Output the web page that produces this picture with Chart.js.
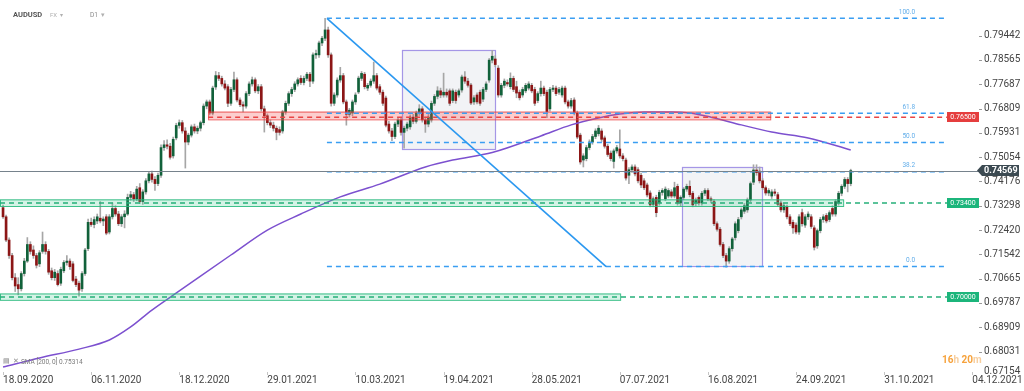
<!DOCTYPE html>
<html><head><meta charset="utf-8">
<script src="https://cdn.jsdelivr.net/npm/chart.js@4.4.1/dist/chart.umd.min.js"></script>
<style>html,body{margin:0;padding:0;background:#fff;}#wrap{width:1024px;height:391px;position:relative;}</style>
</head><body><div id="wrap"><canvas id="c" width="1024" height="391"></canvas></div>
<script>
// ---- data (prices in pips, /10000) ----
const opens = [7323,7290,7206,7150,7070,7045,7030,7085,7130,7190,7170,7150,7120,7165,7190,7165,7095,7070,7085,7050,
7095,7125,7130,7120,7065,7050,7030,7085,7175,7270,7262,7275,7285,7275,7290,7235,7290,7320,7300,7265,
7290,7300,7360,7370,7355,7395,7345,7380,7420,7445,7425,7410,7440,7540,7550,7545,7510,7575,7620,7630,
7600,7560,7585,7615,7600,7610,7630,7690,7705,7665,7759,7800,7790,7770,7760,7700,7750,7785,7712,7695,
7690,7735,7770,7785,7745,7760,7680,7655,7630,7621,7610,7605,7600,7669,7700,7735,7750,7770,7790,7775,
7790,7805,7780,7875,7875,7918,7935,7965,7875,7700,7730,7784,7800,7705,7660,7665,7705,7741,7790,7805,
7755,7765,7780,7800,7760,7740,7719,7625,7600,7580,7625,7640,7595,7610,7615,7650,7635,7665,7680,7640,
7625,7640,7700,7725,7745,7730,7740,7745,7710,7740,7730,7748,7795,7780,7766,7705,7730,7740,7715,7750,
7784,7856,7860,7827,7730,7765,7775,7760,7790,7760,7740,7730,7745,7755,7765,7750,7710,7735,7755,7740,
7680,7750,7755,7740,7730,7755,7705,7690,7712,7665,7585,7495,7500,7540,7560,7580,7590,7600,7575,7545,
7520,7490,7528,7535,7510,7495,7440,7460,7470,7460,7440,7420,7405,7376,7335,7360,7340,7378,7355,7365,
7380,7365,7400,7340,7360,7390,7400,7375,7340,7360,7340,7375,7385,7355,7345,7265,7245,7190,7150,7130,
7175,7215,7240,7290,7310,7315,7351,7415,7459,7455,7420,7395,7376,7365,7380,7370,7340,7315,7325,7290,
7270,7260,7235,7305,7260,7290,7290,7250,7185,7240,7280,7295,7280,7320,7300,7340,7375,7400,7425,7410];
const highs = [7332,7296,7214,7158,7085,7070,7092,7140,7215,7200,7185,7158,7168,7235,7200,7172,7105,7100,7095,7108,
7132,7150,7138,7128,7075,7058,7092,7176,7282,7285,7290,7300,7345,7290,7298,7298,7340,7330,7310,7298,
7312,7372,7382,7378,7400,7410,7388,7428,7452,7455,7435,7448,7550,7565,7568,7555,7578,7628,7640,7638,
7612,7592,7622,7625,7618,7636,7698,7712,7712,7762,7815,7812,7798,7782,7768,7758,7813,7792,7720,7705,
7742,7778,7795,7792,7768,7768,7690,7662,7640,7632,7618,7615,7675,7708,7742,7758,7778,7792,7800,7798,
7812,7812,7882,7892,7925,7942,8007,7975,7882,7738,7792,7830,7808,7712,7682,7712,7738,7798,7815,7812,
7772,7788,7849,7808,7768,7748,7726,7635,7610,7632,7648,7648,7618,7632,7658,7660,7672,7695,7688,7650,
7660,7708,7732,7760,7755,7809,7752,7752,7752,7748,7752,7802,7815,7790,7772,7728,7738,7748,7758,7778,
7862,7891,7872,7836,7772,7788,7785,7810,7798,7780,7748,7758,7772,7778,7772,7758,7742,7780,7762,7748,
7758,7765,7762,7758,7762,7762,7712,7718,7720,7672,7592,7518,7548,7568,7588,7608,7620,7608,7582,7552,
7528,7535,7548,7604,7518,7502,7468,7478,7478,7468,7448,7428,7412,7384,7362,7368,7386,7392,7398,7392,
7388,7415,7408,7366,7396,7408,7420,7382,7358,7366,7382,7392,7392,7362,7352,7272,7252,7198,7158,7182,
7216,7272,7288,7322,7338,7358,7416,7478,7478,7470,7428,7402,7392,7388,7390,7378,7348,7338,7332,7298,
7278,7268,7298,7318,7298,7308,7298,7258,7246,7288,7298,7302,7312,7330,7352,7382,7406,7432,7432,7462];
const lows = [7284,7200,7140,7062,7020,7008,7022,7076,7125,7155,7140,7105,7110,7158,7155,7082,7062,7060,7040,7042,
7088,7115,7100,7055,7038,7003,7020,7078,7168,7255,7250,7265,7268,7258,7225,7228,7282,7292,7258,7255,
7250,7295,7350,7345,7348,7338,7335,7372,7412,7415,7385,7402,7432,7530,7535,7498,7502,7568,7610,7592,
7466,7550,7578,7592,7590,7600,7622,7680,7658,7658,7750,7782,7762,7748,7688,7692,7742,7705,7688,7669,
7682,7728,7762,7738,7735,7672,7596,7622,7612,7600,7568,7585,7592,7660,7692,7725,7742,7762,7768,7766,
7782,7760,7772,7862,7866,7908,7926,7866,7690,7692,7722,7776,7698,7621,7650,7655,7696,7735,7782,7752,
7746,7758,7772,7748,7732,7692,7615,7592,7565,7572,7616,7585,7538,7600,7606,7626,7628,7656,7632,7595,
7615,7632,7692,7716,7720,7722,7722,7692,7702,7700,7722,7740,7772,7758,7695,7696,7698,7692,7706,7742,
7776,7846,7832,7722,7722,7756,7762,7752,7742,7720,7712,7722,7738,7748,7738,7692,7702,7726,7728,7648,
7672,7742,7728,7732,7722,7698,7682,7682,7658,7572,7480,7470,7492,7532,7552,7572,7582,7562,7538,7508,
7492,7466,7520,7502,7492,7422,7410,7450,7438,7412,7395,7388,7362,7326,7326,7290,7332,7368,7348,7358,
7358,7358,7332,7330,7352,7382,7362,7326,7330,7332,7332,7366,7348,7340,7258,7238,7184,7142,7108,7122,
7166,7206,7232,7282,7302,7306,7344,7406,7440,7412,7388,7368,7366,7356,7366,7328,7308,7306,7282,7258,
7230,7228,7226,7256,7252,7280,7248,7170,7176,7232,7270,7268,7272,7292,7292,7332,7366,7392,7380,7402];
const closes = [7290,7206,7150,7070,7040,7030,7085,7130,7190,7165,7150,7115,7160,7190,7165,7090,7070,7090,7045,7100,
7125,7130,7110,7060,7045,7025,7085,7170,7270,7262,7280,7290,7275,7282,7231,7290,7320,7300,7265,7290,
7300,7360,7370,7355,7390,7345,7380,7420,7445,7425,7410,7440,7540,7550,7545,7505,7570,7620,7630,7600,
7560,7585,7615,7600,7610,7630,7690,7705,7665,7755,7800,7790,7770,7755,7700,7750,7785,7712,7695,7690,
7735,7770,7785,7745,7760,7680,7655,7630,7621,7610,7595,7595,7669,7700,7735,7750,7770,7785,7775,7790,
7805,7780,7875,7880,7918,7935,7965,7875,7700,7730,7784,7800,7705,7660,7675,7705,7730,7791,7808,7760,
7765,7780,7800,7755,7740,7700,7621,7600,7580,7625,7640,7595,7610,7625,7650,7635,7665,7680,7640,7625,
7650,7700,7725,7745,7730,7740,7730,7700,7745,7710,7745,7795,7780,7765,7701,7720,7705,7700,7750,7770,
7856,7870,7840,7730,7765,7780,7770,7790,7750,7737,7720,7750,7765,7770,7745,7700,7735,7755,7735,7670,
7750,7755,7735,7750,7755,7705,7690,7710,7665,7578,7488,7510,7540,7560,7580,7600,7610,7570,7545,7515,
7500,7528,7540,7510,7500,7430,7460,7470,7445,7420,7405,7395,7369,7333,7355,7305,7378,7385,7390,7385,
7365,7395,7340,7360,7390,7400,7370,7333,7350,7340,7375,7385,7355,7350,7265,7245,7190,7150,7130,7175,
7210,7265,7280,7315,7330,7351,7410,7459,7450,7420,7395,7376,7385,7380,7375,7335,7315,7330,7290,7265,
7250,7235,7290,7265,7290,7300,7255,7180,7240,7280,7290,7275,7305,7300,7345,7375,7400,7425,7410,7457];

const smaIdx  = [0,12,25,35,42,49,56,65,75,87,98,111,124,139,148,161,177,187,196,203,211,220,226,233,243,253,265,279];
const smaVals = [0.6747,0.6780,0.6812,0.6845,0.6892,0.6953,0.7007,0.7076,0.7152,0.7242,0.7300,0.7362,0.7408,0.7470,
0.7495,0.7522,0.7582,0.7622,0.7647,0.7661,0.7669,0.7669,0.7665,0.7650,0.7622,0.7596,0.7575,0.75314];

const xTickIdx = [0,29,58,87,116,145,174,203,232,261,290,319];
const xTickLabels = ['18.09.2020','06.11.2020','18.12.2020','29.01.2021','10.03.2021','19.04.2021','28.05.2021','07.07.2021','16.08.2021','24.09.2021','31.10.2021','04.12.2021'];
const yTickValues = [0.79442,0.78565,0.77687,0.76809,0.75931,0.75054,0.74176,0.73298,0.72420,0.71542,0.70665,0.69787,0.68909,0.68031,0.67154];

// drawing levels (price, bar index)
const lastPrice = 0.74569;
const fibHigh = 0.8007, fibLow = 0.7110, fibStart = 106.6, fibEnd = 310, fibLabelAt = 300.2;
const fibLevels = [1.0, 0.618, 0.5, 0.382, 0.0];
const fibNames = ['100.0','61.8','50.0','38.2','0.0'];
const trendLine = {i1:106.6, v1:0.8007, i2:198.5, v2:0.7110};
const redZone = {i1:67.5, i2:252.5, lo:0.7642, hi:0.7670, level:0.76500, lineTo:310.7};
const greenZones = [{i1:-1, i2:276.5, lo:0.7329, hi:0.7353, level:0.73400, lineTo:310.7},
                    {i1:-1, i2:203.1, lo:0.6990, hi:0.7013, level:0.70000, lineTo:310.7}];
const boxes = [{i1:131.3, i2:161.9, lo:0.7535, hi:0.7893},{i1:223.5, i2:249.8, lo:0.7113, hi:0.7471}];

const P = v => v/10000;
const UP = '#11613a', DOWN = '#8c1616';
const wickData = opens.map((o,i)=>({x:i, y:[P(lows[i]), P(highs[i])]}));
const bodyData = opens.map((o,i)=>({x:i, y:[P(o), P(closes[i])]}));
const bodyColors = opens.map((o,i)=> closes[i] >= o ? UP : DOWN);
const smaData = smaIdx.map((x,k)=>({x, y:smaVals[k]}));

const F = 'Roboto, "Liberation Sans", sans-serif';
const Y_MIN = 0.67293, Y_MAX = 0.80732;

const deco = {
  id:'deco',
  beforeDatasetsDraw(chart){
    const ctx = chart.ctx, xs = chart.scales.x, ys = chart.scales.y;
    const X = i=>xs.getPixelForValue(i), Y = v=>ys.getPixelForValue(v);
    ctx.save();
    boxes.forEach(b=>{
      const x1=X(b.i1), x2=X(b.i2), y1=Y(b.hi), y2=Y(b.lo);
      ctx.fillStyle='rgba(220,224,232,0.38)';
      ctx.fillRect(x1,y1,x2-x1,y2-y1);
      ctx.strokeStyle='#a596e6'; ctx.lineWidth=1.2;
      ctx.strokeRect(Math.round(x1)+0.5,Math.round(y1)+0.5,Math.round(x2-x1),Math.round(y2-y1));
    });
    ctx.restore();
  },
  afterDatasetsDraw(chart){
    const ctx = chart.ctx, xs = chart.scales.x, ys = chart.scales.y;
    const X = i=>xs.getPixelForValue(i), Y = v=>ys.getPixelForValue(v);
    ctx.save();
    {
      const z=redZone, x1=Math.max(0,X(z.i1)), x2=X(z.i2), y1=Y(z.hi), y2=Y(z.lo);
      ctx.fillStyle='rgba(244,80,80,0.28)'; ctx.fillRect(x1,y1,x2-x1,y2-y1);
      ctx.strokeStyle='rgba(235,70,70,0.85)'; ctx.lineWidth=1; ctx.strokeRect(x1+0.5,y1+0.5,x2-x1,y2-y1);
      ctx.setLineDash([5,4]); ctx.strokeStyle='#e84545'; ctx.lineWidth=1.5;
      ctx.beginPath(); ctx.moveTo(x1,Y(z.level)); ctx.lineTo(X(z.lineTo),Y(z.level)); ctx.stroke(); ctx.setLineDash([]);
    }
    greenZones.forEach(z=>{
      const x1=Math.max(0,X(z.i1)), x2=X(z.i2), y1=Y(z.hi), y2=Y(z.lo);
      ctx.fillStyle='rgba(60,200,140,0.22)'; ctx.fillRect(x1,y1,x2-x1,y2-y1);
      ctx.strokeStyle='rgba(40,185,125,0.9)'; ctx.lineWidth=1; ctx.strokeRect(x1+0.5,y1+0.5,x2-x1,y2-y1);
      ctx.setLineDash([5,4]); ctx.strokeStyle='#26b07a'; ctx.lineWidth=1.5;
      ctx.beginPath(); ctx.moveTo(x1,Y(z.level)); ctx.lineTo(X(z.lineTo),Y(z.level)); ctx.stroke(); ctx.setLineDash([]);
    });
    ctx.setLineDash([5,4]); ctx.strokeStyle='#3a9ef2'; ctx.lineWidth=1.5;
    fibLevels.forEach((f,k)=>{
      const v = fibLow + f*(fibHigh-fibLow), y=Y(v);
      ctx.beginPath(); ctx.moveTo(X(fibStart),y); ctx.lineTo(X(fibEnd),y); ctx.stroke();
    });
    ctx.setLineDash([]);
    ctx.fillStyle='#62aeea'; ctx.font='6.5px '+F; ctx.textAlign='right'; ctx.textBaseline='bottom';
    fibLevels.forEach((f,k)=>{
      const v = fibLow + f*(fibHigh-fibLow);
      ctx.fillText(fibNames[k], X(fibLabelAt), Y(v)-3);
    });
    ctx.strokeStyle='#2b98f0'; ctx.lineWidth=1.6;
    ctx.beginPath(); ctx.moveTo(X(trendLine.i1),Y(trendLine.v1)); ctx.lineTo(X(trendLine.i2),Y(trendLine.v2)); ctx.stroke();
    const py = Math.round(Y(lastPrice))+0.5;
    ctx.strokeStyle='#76828c'; ctx.lineWidth=1;
    ctx.beginPath(); ctx.moveTo(0,py); ctx.lineTo(979,py); ctx.stroke();
    ctx.restore();
  },
  afterDraw(chart){
    const ctx = chart.ctx, xs = chart.scales.x, ys = chart.scales.y, ca = chart.chartArea;
    const X = i=>xs.getPixelForValue(i), Y = v=>ys.getPixelForValue(v);
    ctx.save();
    ctx.strokeStyle='#9a9a9a'; ctx.lineWidth=1;
    yTickValues.forEach(v=>{ const y=Math.round(Y(v))+0.5; if(y>ca.bottom) return; ctx.beginPath(); ctx.moveTo(979,y); ctx.lineTo(982,y); ctx.stroke(); });
    // tick value below the visible range, clamped inside the axis like the original
    ctx.fillStyle='#444'; ctx.font='10px '+F; ctx.textAlign='left'; ctx.textBaseline='middle';
    yTickValues.filter(v=>v<Y_MIN).forEach(v=>ctx.fillText(v.toFixed(5),984,ca.bottom-1));
    ctx.strokeStyle='#c4c4c4';
    xTickIdx.forEach(i=>{ const x=Math.round(X(i))+0.5; ctx.beginPath(); ctx.moveTo(x,ca.bottom); ctx.lineTo(x,ca.bottom+3); ctx.stroke(); });
    const tag=(v,txt,col)=>{ const y=Y(v); ctx.fillStyle=col; ctx.fillRect(947,Math.round(y)-5,32,10);
      ctx.fillStyle='#fff'; ctx.font='7px '+F; ctx.textAlign='center'; ctx.textBaseline='middle'; ctx.fillText(txt,963,y+0.5); };
    tag(redZone.level, redZone.level.toFixed(5), '#e53e3e');
    greenZones.forEach(z=>tag(z.level, z.level.toFixed(5), '#1cb57b'));
    const py=Y(lastPrice);
    ctx.fillStyle='#3c4a52';
    ctx.beginPath(); ctx.moveTo(977,py); ctx.lineTo(982,py-5.5); ctx.lineTo(1019,py-5.5); ctx.lineTo(1019,py+5.5); ctx.lineTo(982,py+5.5); ctx.closePath(); ctx.fill();
    ctx.fillStyle='#fff'; ctx.font='bold 9px '+F; ctx.textAlign='left'; ctx.textBaseline='middle'; ctx.fillText(lastPrice.toFixed(5),984,py+0.5);
    ctx.textBaseline='middle'; ctx.textAlign='left';
    ctx.fillStyle='#555'; ctx.font='bold 7.5px '+F; ctx.fillText('AUDUSD',13,15);
    ctx.fillStyle='#b0b0b0'; ctx.font='6px '+F; ctx.fillText('FX',50,15); ctx.fillText('▾',60,15);
    ctx.fillStyle='#888'; ctx.font='6.5px '+F; ctx.fillText('D1',90,15); ctx.fillStyle='#b0b0b0'; ctx.fillText('▾',101,15);
    ctx.fillStyle='#8a8a8a'; ctx.font='7px '+F; ctx.fillText('▤',3,361); ctx.fillText('✕',13,361);
    ctx.fillStyle='#7a7a7a'; ctx.font='6.5px '+F; ctx.fillText('SMA [200, 0]',21,362); ctx.fillText(smaVals[smaVals.length-1].toFixed(5),59,362);
    ctx.font='bold 10px '+F; let tx=942; const parts=[['16','#f6a23c'],['h','#f7cfa0'],[' 20','#f6a23c'],['m','#f7cfa0']];
    parts.forEach(p=>{ ctx.fillStyle=p[1]; ctx.fillText(p[0],tx,360); tx+=ctx.measureText(p[0]).width; });
    ctx.restore();
  }
};

new Chart(document.getElementById('c'), {
  type:'bar',
  data:{ datasets:[
    {type:'line', data:smaData, borderColor:'#7c50cf', borderWidth:1.5, pointRadius:0, cubicInterpolationMode:'monotone', order:0},
    {data:bodyData, backgroundColor:bodyColors, barThickness:2, grouped:false, minBarLength:1, order:1},
    {data:wickData, backgroundColor:'#a6a6a6', barThickness:1, grouped:false, order:2}
  ]},
  options:{
    responsive:false, animation:false, events:[],
    layout:{padding:0},
    plugins:{legend:{display:false}, tooltip:{enabled:false}},
    scales:{
      x:{type:'linear', min:-1, max:319.9, offset:false,
         grid:{display:false, tickLength:0}, border:{display:false},
         afterBuildTicks:a=>{a.ticks = xTickIdx.map(v=>({value:v}));},
         afterFit:a=>{a.height=19; a.paddingLeft=0; a.paddingRight=0;},
         ticks:{autoSkip:false, maxRotation:0, align:'start', padding:2, color:'#444', font:{family:F,size:10},
                callback:(v,idx)=>xTickLabels[idx]}},
      y:{position:'right', min:Y_MIN, max:Y_MAX,
         grid:{display:false, tickLength:0}, border:{display:false},
         afterBuildTicks:a=>{a.ticks = yTickValues.filter(v=>v>=Y_MIN).map(v=>({value:v}));},
         afterFit:a=>{a.width=49; a.paddingTop=0; a.paddingBottom=0;},
         ticks:{padding:9, color:'#444', font:{family:F,size:10}, callback:v=>v.toFixed(5)}}
    }
  },
  plugins:[deco]
});
</script></body></html>
